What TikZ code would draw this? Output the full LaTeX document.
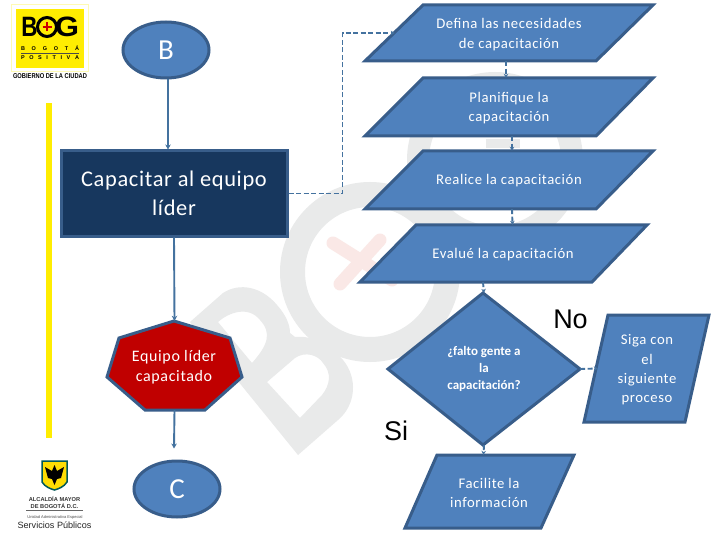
\documentclass[tikz,border=0pt]{standalone}
\usepackage{fontspec}
\usetikzlibrary{arrows.meta,fit,shapes.geometric,calc}
\setmainfont{Carlito}
\newfontfamily\bodyf[LetterSpace=4]{Carlito}
\newfontfamily\bigf[LetterSpace=3]{Carlito}
\newfontfamily\arialf{Liberation Sans}
\definecolor{boxfill}{HTML}{4F81BD}
\definecolor{boxline}{HTML}{385D8A}
\definecolor{conn}{HTML}{44729F}
\definecolor{navy}{HTML}{17375E}
\definecolor{wred}{HTML}{C00000}
\definecolor{wm}{HTML}{E9EAEA}
\definecolor{wmred}{HTML}{FAE8E6}
\tikzset{
  x=1pt,y=-1pt,
  shp/.style={draw=boxline,line width=3pt,fill=boxfill,line join=miter},
  lbl/.style={text=white,align=center,inner sep=0pt,font=\bodyf\fontsize{14.7}{19.3}\selectfont},
  hold/.style={inner sep=0pt,draw=none},
  solidc/.style={draw=conn,line width=1.9pt,-{Stealth[length=5pt,width=5.5pt]}},
  dashc/.style={draw=conn,line width=1.9pt,dash pattern=on 5pt off 2.5pt,-{Stealth[length=4pt,width=4.5pt]}},
  lead/.style={font=\bigf\fontsize{22.4}{29}\selectfont,text=white,align=center},
  yesno/.style={font=\arialf\fontsize{27}{27}\selectfont,text=black,inner sep=0pt},
  oval/.style={ellipse,shp,minimum width=86pt,minimum height=56pt,inner sep=0pt,text=white,font=\fontsize{29}{29}\selectfont},
}
\newcommand{\para}[9]{%
  \draw[shp] (#2,#6) -- (#3,#6) -- (#4,#7) -- (#5,#7) -- cycle;
  \node[hold,fit={(#5,#6) (#3,#7)}] (#1) {};
  \node[lbl] (#1t) at (#8) {#9};
}
\begin{document}
\begin{tikzpicture}
\useasboundingbox (0,0) rectangle (720,540);
\fill[white] (0,0) rectangle (720,540);
% watermark
\fill[wm,even odd rule] (370,272) circle (90) (370,272) circle (65);
\fill[wm,even odd rule] (495,160) circle (88) (495,160) circle (66);
\fill[wm] (486,139) rectangle (520,148);
\draw[wmred,line width=13pt,line cap=round] (380,240) -- (340,284);
\draw[wmred,line width=13pt,line cap=round] (333,243) -- (392,280);
\fill[wm,even odd rule]
  (298,455) -- (190,322) -- (223,293) .. controls (240,282) and (262,287) .. (277,305)
  .. controls (286,315) and (290,325) .. (290,333) -- (295,337)
  .. controls (312,335) and (330,345) .. (343,360) .. controls (358,378) and (356,405) .. (338,420) -- cycle
  (218,322) .. controls (228,313) and (248,305) .. (260,320) .. controls (272,333) and (268,345) .. (252,363) -- cycle
  (267,382) -- (295,358) .. controls (305,351) and (318,355) .. (323,363) .. controls (332,373) and (330,385) .. (322,395) -- (300,418) -- cycle;
% yellow bar
\fill[yellow!95!orange] (46,103) rectangle (52,438);
% logo top
\fill[yellow!30] (11,4) rectangle (89,72);
\fill[white] (12,5) rectangle (88,71);
\fill[yellow!95!orange] (16,9) rectangle (84,68);
\node[inner sep=0pt,xscale=.8,font=\arialf\bfseries\fontsize{28}{28}\selectfont] (lb) at (29.5,27) {B};
\node[inner sep=0pt,xscale=1.1,font=\arialf\bfseries\fontsize{28}{28}\selectfont] (lg) at (67,27) {G};
\draw[black,line width=3pt,fill=yellow!95!orange] (47,27) circle (9.5);
\draw[red!80!black,line width=2pt] (42.5,27) -- (51.5,27) (47,22.5) -- (47,31.5);
\node[inner sep=0pt,font=\arialf\bfseries\fontsize{5.5}{5.5}\selectfont] (l1) at (50,48) {\makebox[58pt][s]{B\hfil O\hfil G\hfil O\hfil T\hfil Á}};
\node[inner sep=0pt,font=\arialf\bfseries\fontsize{5.5}{5.5}\selectfont] (l2) at (50,57.5) {\makebox[58pt][s]{P\hfil O\hfil S\hfil I\hfil T\hfil I\hfil V\hfil A}};
\draw[black!70,line width=.4pt] (21,53) -- (79,53);
\node[inner sep=0pt,font=\arialf\bfseries\fontsize{7}{7}\selectfont,xscale=.82] (l3) at (50,76) {GOBIERNO DE LA CIUDAD};
% logo bottom
\draw[draw=teal!70!black,line width=1.5pt,fill=yellow!80!orange]
  (42,461) -- (67,461) -- (67,482) .. controls (64,487) and (58,489) .. (54.5,490) .. controls (51,489) and (45,487) .. (42,482) -- cycle;
\fill[black] (54.5,465) -- (57,471) -- (64,467) -- (61,478) -- (57,479) -- (54.5,485) -- (52,479) -- (48,478) -- (45,467) -- (52,471) -- cycle;
\node[inner sep=0pt,font=\arialf\bfseries\fontsize{5.7}{7}\selectfont,text=black!80] (a1) at (54.5,499) {ALCALDÍA MAYOR};
\node[inner sep=0pt,font=\arialf\bfseries\fontsize{5.7}{7}\selectfont,text=black!80] (a2) at (54.5,505.5) {DE BOGOTÁ D.C.};
\draw[black!60,line width=.4pt] (26,510.5) -- (83,510.5);
\node[inner sep=0pt,font=\arialf\fontsize{4}{5}\selectfont,text=black!70] (a3) at (55,517) {Unidad Administrativa Especial};
\node[inner sep=0pt,font=\arialf\fontsize{9.1}{11}\selectfont,text=black!85] (a4) at (54.5,525) {Servicios Públicos};
% shapes
\node[oval] (b) at (166,50) {B};
\node[oval] (c) at (177,489) {C};
\node[rectangle,shp,fill=navy,minimum width=226pt,minimum height=85pt,inner sep=0pt,lead] (r) at (174,193.5) {Capacitar al equipo\\líder};
\para{p1}{423}{653}{596}{365}{5}{61}{509,34.5}{Defina las necesidades\\de capacitación}
\para{p2}{423}{653}{596}{365}{78}{136}{509,108}{Planifique la\\capacitación}
\para{p3}{423}{653}{596}{365}{151}{209}{509,181}{Realice la capacitación}
\para{p4}{416}{647}{592}{360}{225}{282}{503,255}{Evalué la capacitación}
% diamond
\draw[shp] (483,293) -- (580,369) -- (483,445) -- (388,369) -- cycle;
\node[hold,fit={(388,293) (580,445)}] (d) {};
\node[lbl,font=\bfseries\fontsize{13}{17.3}\selectfont] (dt) at (484,369) {¿falto gente a\\la\\capacitación?};
\para{s}{608}{709}{685}{584}{315}{422}{647,370}{Siga con\\el\\siguiente\\proceso}
\para{f}{437}{574}{541}{405}{455}{528}{489,493}{Facilite la\\información}
% heptagon
\draw[shp,fill=wred] (174,321) -- (230,338) -- (242,377) -- (205,410) -- (145,410) -- (107,377) -- (119,338) -- cycle;
\node[hold,fit={(107,321) (242,410)}] (h) {};
\node[lbl,font=\bodyf\fontsize{16}{19.5}\selectfont] (ht) at (174,367) {Equipo líder\\capacitado};
% labels
\node[yesno] (no) at (570.5,319) {No};
\node[yesno] (si) at (396,431) {Si};
% connectors
\draw[solidc] ([xshift=2pt]b.south) -- ([xshift=-6pt]r.north);
\draw[solidc] (r.south) -- (h.north);
\draw[solidc] (h.south) -- ([xshift=-3pt,yshift=11pt]c.north);
\draw[dashc] (r.east) -- ++(54,0) |- ([xshift=30pt]p1.west);
\draw[dashc] ([xshift=-3pt]p1.south) -- ([xshift=-3pt]p2.north);
\draw[dashc] ([xshift=3pt]p2.south) -- ([xshift=3pt]p3.north);
\draw[dashc] ([xshift=3pt]p3.south) -- ([xshift=9pt]p4.north);
\draw[dashc] ([xshift=-20.5pt]p4.south) -- (d.north);
\draw[dashc] (d.south) -- ([xshift=-6pt]f.north);
\draw[dashc] (d.east) -- ([xshift=14pt]s.west);
\end{tikzpicture}
\end{document}
